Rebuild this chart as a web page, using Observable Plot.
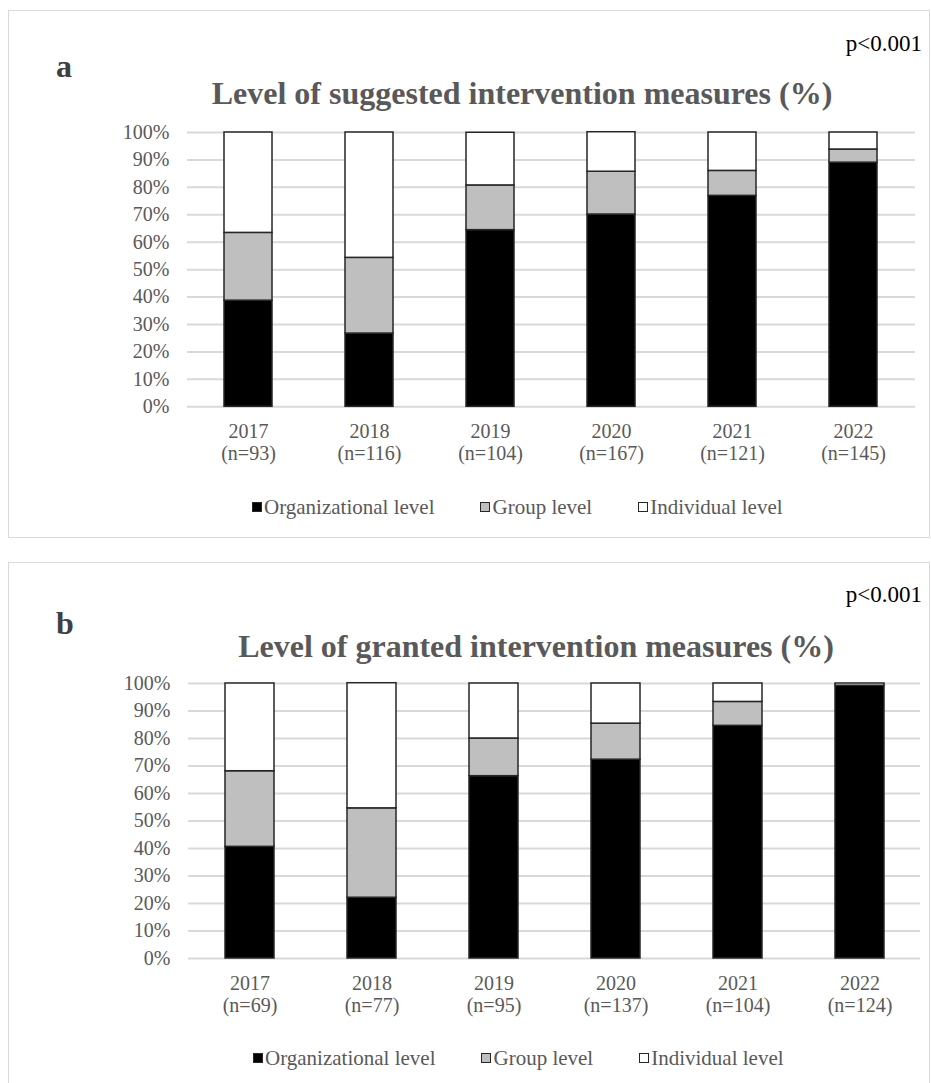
<!DOCTYPE html>
<html><head><meta charset="utf-8">
<script src="https://cdn.jsdelivr.net/npm/d3@7"></script>
<script src="https://cdn.jsdelivr.net/npm/@observablehq/plot@0.6"></script>
<style>
body{margin:0;width:931px;height:1083px;position:relative;background:#fff;font-family:"Liberation Serif","Times New Roman",serif;overflow:hidden}
.panel{position:absolute;border:1.5px solid #d9d9d9;box-sizing:border-box}
.abs{position:absolute;white-space:nowrap;line-height:1}
.legend{position:absolute;display:flex;align-items:center;font-size:21px;color:#595959;line-height:1;white-space:nowrap}
.legend .it{display:flex;align-items:center}
.legend .sw{width:10px;height:10px;box-sizing:border-box;border:1.3px solid #262626;margin-right:2px}
svg{position:absolute}
</style></head><body>
<script>
const years = ["2017","2018","2019","2020","2021","2022"];
const nSuggested = [93,116,104,167,121,145];
const nGranted = [69,77,95,137,104,124];
const levels = ["Organizational level","Group level","Individual level"];
const levelFills = ["#000000","#bfbfbf","#ffffff"];
// percentages
const suggOrg = [38.7,26.7,64.4,70.1,76.9,89.0];
const suggGroup = [24.7,27.6,16.3,15.6,9.1,4.8];
const suggInd = [36.6,45.7,19.2,14.4,14.0,6.2];
const grantOrg = [40.6,22.1,66.3,72.3,84.6,99.2];
const grantGroup = [27.5,32.5,13.7,13.1,8.7,0];
const grantInd = [31.9,45.5,20.0,14.6,6.7,0.8];
const yTicks = d3.range(0,101,10);

function addText(txt, style){
  const d = document.createElement("div");
  d.className = "abs";
  d.textContent = txt;
  Object.assign(d.style, style);
  document.body.appendChild(d);
  return d;
}

function makePanel(o){
  const box = document.createElement("div");
  box.className = "panel";
  Object.assign(box.style, {left:"8px", top:o.boxTop+"px", width:"922px", height:o.boxH+"px"});
  document.body.appendChild(box);

  addText("p<0.001", {right:"9px", top:(o.pBase-19.3)+"px", fontSize:"23px", color:"#000"});
  addText(o.letter, {left:"56px", top:(o.letterBase-27)+"px", fontSize:"32px", fontWeight:"bold", color:"#404040"});
  addText(o.title, {left:o.titleCx+"px", top:(o.titleBase-27)+"px", fontSize:"32px", fontWeight:"bold", color:"#595959", transform:"translateX(-50%)"});

  const data = [];
  years.forEach((y,i)=>{
    [o.org,o.grp,o.ind].forEach((arr,k)=>data.push({year:y, level:levels[k], value:arr[i]}));
  });
  const svgTop = o.y100 - 22;
  const H = 380;
  const chart = Plot.plot({
    width: 931, height: H,
    marginLeft: o.left, marginRight: 931 - o.right,
    marginTop: o.y100 - svgTop, marginBottom: (svgTop + H) - o.y0,
    style: {fontFamily:'"Liberation Serif","Times New Roman",serif', fontSize:"20px", color:"#595959", background:"transparent"},
    x: {domain: years, paddingInner: 0.6, paddingOuter: 0.3, label: null},
    y: {domain: [0,100], label: null},
    color: {domain: levels, range: levelFills},
    marks: [
      Plot.ruleY(yTicks, {stroke:"#d9d9d9", strokeWidth:2}),
      Plot.barY(data, {x:"year", y:"value", fill:"level", stroke:"#262626", strokeWidth:1.5}),
      Plot.axisY(yTicks, {tickSize:0, tickPadding:18, tickFormat:d=>d+"%", fill:"#595959", label:null}),
      Plot.axisX({tickSize:0, tickPadding:16, lineHeight:1.1, fill:"#595959", label:null,
        tickFormat:(d)=>`${d}\n(n=${o.ns[years.indexOf(d)]})`})
    ]
  });
  chart.style.left = "0px";
  chart.style.top = svgTop + "px";
  document.body.appendChild(chart);

  const lg = document.createElement("div");
  lg.className = "legend";
  lg.style.left = o.legLeft + "px";
  lg.style.top = (o.legCy - 10.5) + "px";
  levels.forEach((l,k)=>{
    const it = document.createElement("div");
    it.className = "it";
    if (k>0) it.style.marginLeft = o.legGap + "px";
    const sw = document.createElement("div");
    sw.className = "sw";
    sw.style.background = levelFills[k];
    it.appendChild(sw);
    const s = document.createElement("span");
    s.textContent = l;
    it.appendChild(s);
    lg.appendChild(it);
  });
  document.body.appendChild(lg);
}

makePanel({letter:"a", title:"Level of suggested intervention measures (%)", boxTop:10, boxH:528,
  pBase:51, letterBase:77, titleBase:104, titleCx:522,
  y100:131.7, y0:406, left:187, right:915,
  org:suggOrg, grp:suggGroup, ind:suggInd, ns:nSuggested,
  legLeft:252, legCy:507, legGap:46});

makePanel({letter:"b", title:"Level of granted intervention measures (%)", boxTop:562, boxH:540,
  pBase:602, letterBase:634, titleBase:657, titleCx:536,
  y100:683.3, y0:958.3, left:188, right:920,
  org:grantOrg, grp:grantGroup, ind:grantInd, ns:nGranted,
  legLeft:253, legCy:1058, legGap:46});
</script>
</body></html>
